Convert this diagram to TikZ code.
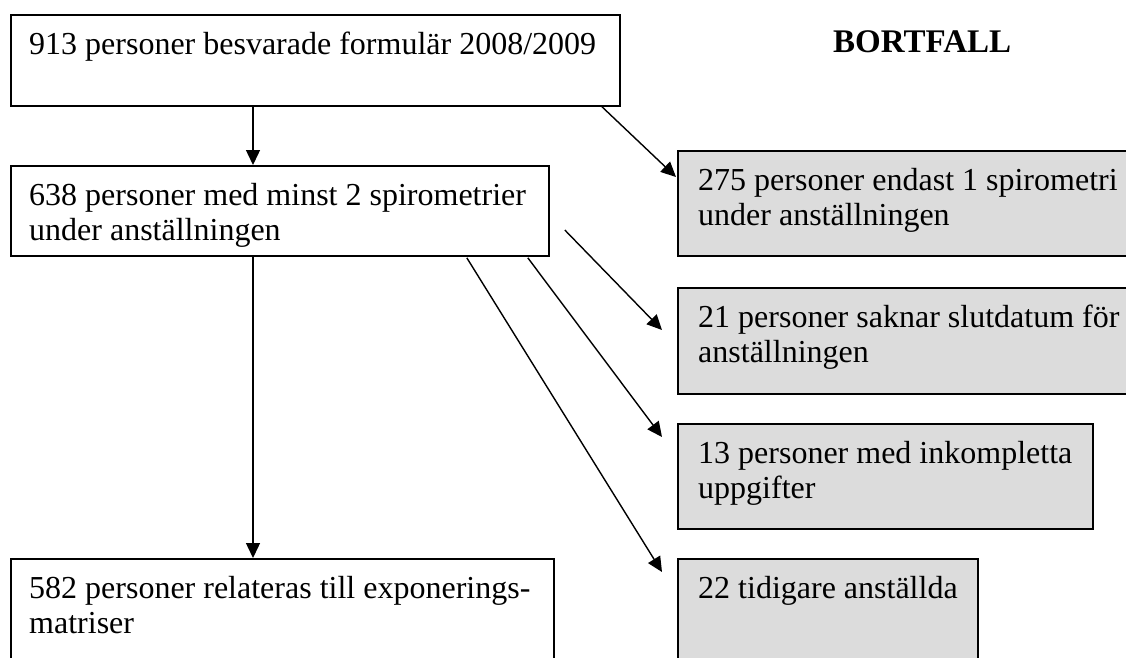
\documentclass[tikz,border=0pt]{standalone}
\usepackage{fontspec}
\setmainfont{Liberation Serif}
\usetikzlibrary{arrows.meta,calc}
\definecolor{boxgray}{RGB}{220,220,220}
\begin{document}
\begin{tikzpicture}[x=1pt,y=-1pt,
  box/.style={draw=black, line width=1.8pt, rectangle, inner sep=0pt, anchor=north west},
  graybox/.style={box, fill=boxgray},
  lbl/.style={anchor=base west, inner sep=0pt, font=\fontsize{32}{35}\selectfont},
  arr/.style={draw=black, line width=1.4pt, -{Triangle[length=15pt,width=14pt]}}]
\useasboundingbox (0,0) rectangle (1126,657);
\clip (0,0) rectangle (1126,657);
% boxes
\node[box, minimum width=609pt, minimum height=91pt] (b1) at (10,14) {};
\node[box, minimum width=538pt, minimum height=90pt] (b2) at (10,165) {};
\node[box, minimum width=543pt, minimum height=120pt] (b582) at (10,558) {};
\node[graybox, minimum width=470pt, minimum height=105pt] (b275) at (677,150) {};
\node[graybox, minimum width=470pt, minimum height=106pt] (b21) at (677,287) {};
\node[graybox, minimum width=415pt, minimum height=105pt] (b13) at (677,423) {};
\node[graybox, minimum width=300pt, minimum height=120pt] (b22) at (677,558) {};
% texts
\node[lbl] (t1) at ($(b1.north west)+(19,40)$) {\parbox[t]{700pt}{913 personer besvarade formulär 2008/2009}};
\node[lbl] (t2) at ($(b2.north west)+(19,40)$) {\parbox[t]{700pt}{638 personer med minst 2 spirometrier\\under anställningen}};
\node[lbl] (t582) at ($(b582.north west)+(19,40)$) {\parbox[t]{700pt}{582 personer relateras till exponerings-\\matriser}};
\node[lbl] (t275) at ($(b275.north west)+(21,40)$) {\parbox[t]{700pt}{275 personer endast 1 spirometri\\under anställningen}};
\node[lbl] (t21) at ($(b21.north west)+(21,40)$) {\parbox[t]{700pt}{21 personer saknar slutdatum för\\anställningen}};
\node[lbl] (t13) at ($(b13.north west)+(21,40)$) {\parbox[t]{700pt}{13 personer med inkompletta\\uppgifter}};
\node[lbl] (t22) at ($(b22.north west)+(21,40)$) {\parbox[t]{700pt}{22 tidigare anställda}};
\node[anchor=base west, inner sep=0pt, font=\fontsize{33}{38}\selectfont\bfseries] (bort) at (833,52) {BORTFALL};
% connector end points
\coordinate (s1) at ($(b1.south west)+(243,0)$);
\coordinate (s2) at ($(b2.south west)+(243,0)$);
\coordinate (s3) at ($(b1.south west)+(592,0)$);
\coordinate (e3) at ($(b275.north west)+(-1,27)$);
\coordinate (s4) at ($(b2.north east)+(15,65)$);
\coordinate (e4) at ($(b21.north west)+(-15,43)$);
\coordinate (s5) at ($(b2.south east)+(-22,1)$);
\coordinate (e5) at ($(b13.north west)+(-15,14)$);
\coordinate (s6) at ($(b2.south east)+(-83,1)$);
\coordinate (e6) at ($(b22.north west)+(-15,14)$);
% connectors
\draw[arr] (s1) -- (s1 |- b2.north);
\draw[arr] (s2) -- (s2 |- b582.north);
\draw[arr] (s3) -- (e3);
\draw[arr] (s4) -- (e4);
\draw[arr] (s5) -- (e5);
\draw[arr] (s6) -- (e6);
\end{tikzpicture}
\end{document}
